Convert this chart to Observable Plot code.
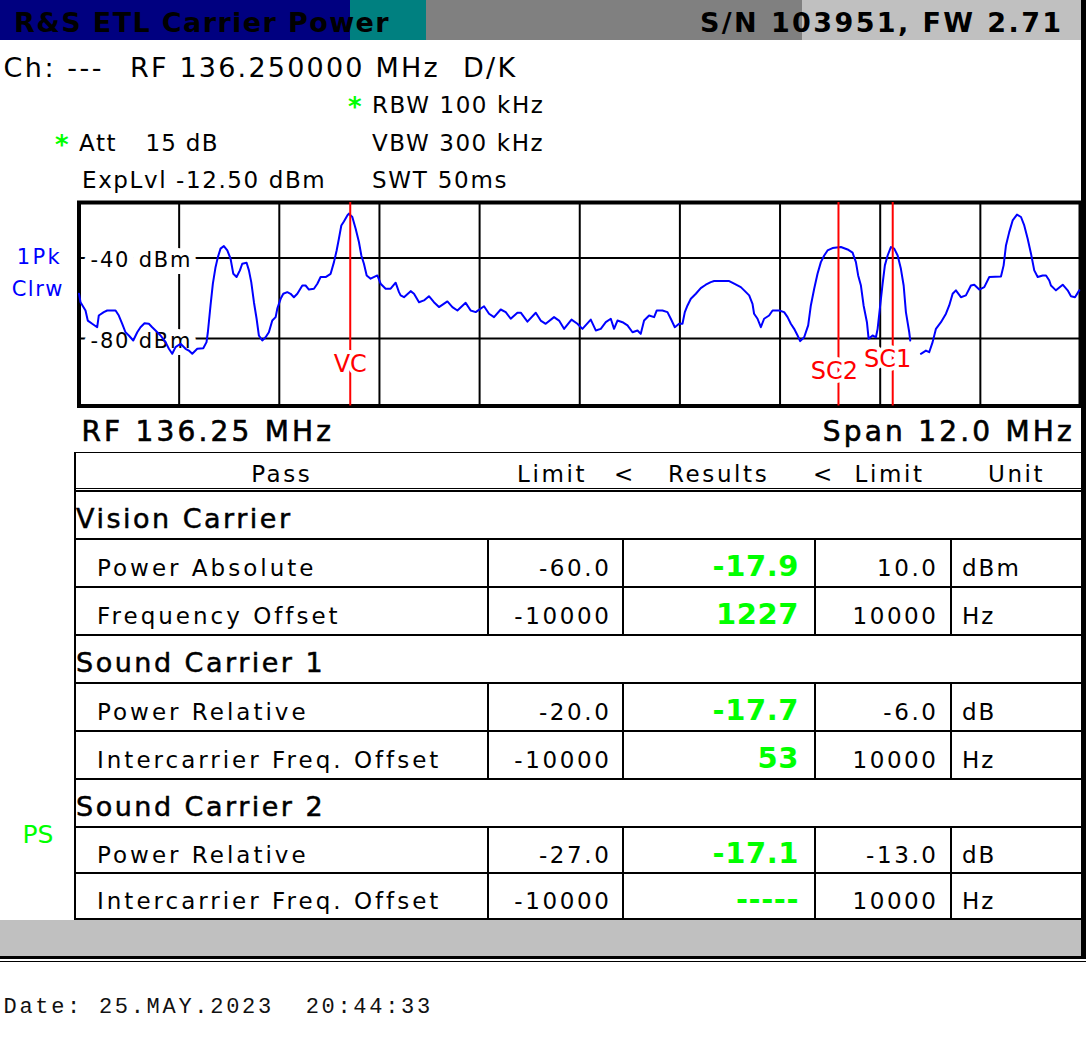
<!DOCTYPE html>
<html><head><meta charset="utf-8">
<script src="https://cdn.jsdelivr.net/npm/d3@7"></script>
<script src="https://cdn.jsdelivr.net/npm/@observablehq/plot@0.6"></script>
<style>
html,body{margin:0;padding:0;background:#fff;width:1086px;height:1054px;overflow:hidden;}
#root{position:relative;width:1086px;height:1054px;background:#fff;overflow:hidden;}
#root div.t{position:absolute;white-space:pre;}
#chart{position:absolute;left:0;top:192px;}
</style></head><body><div id="root"><div id="chart"></div></div>
<script>
// ---------------- DATA ----------------
const titleText = "R&S ETL Carrier Power";
const serialText = "S/N 103951, FW 2.71";
const channelText = "Ch: ---";
const rfText = "RF 136.250000 MHz";
const standardText = "D/K";
const rbwText = "RBW 100 kHz";
const vbwText = "VBW 300 kHz";
const swtText = "SWT 50ms";
const attText = ["Att", "15 dB"];
const expLvlText = "ExpLvl -12.50 dBm";
const traceModeText = ["1Pk", "Clrw"];
const centerText = "RF 136.25 MHz";
const spanText = "Span 12.0 MHz";
const passText = "PS";
const dateText = "Date: 25.MAY.2023  20:44:33";

// spectrum x domain (MHz) and y domain (dBm)
const freqDomain = [133, 145];
const levelDomain = [-113.5, -12.5];
const gridMHz = [134.2, 135.4, 136.6, 137.8, 139.0, 140.2, 141.4, 142.6, 143.8];
const levelTicks = [-40, -80];
const levelLabels = ["-40 dBm", "-80 dBm"];

const markerNames = ["VC", "SC2", "SC1"];
const markerMHz = [136.25, 142.10, 142.75];

const traceMHz = [
133.000,133.018,133.078,133.105,133.158,133.218,133.237,133.297,133.338,133.438,133.477,133.518,133.557,133.597,133.650,133.698,133.737,133.785,133.837,133.877,
133.917,133.977,134.037,134.077,134.117,134.157,134.217,134.277,134.316,134.357,134.417,134.489,134.528,134.544,134.576,134.604,134.636,134.664,134.696,134.736,
134.777,134.816,134.849,134.888,134.928,134.956,135.008,135.036,135.064,135.096,135.128,135.155,135.196,135.236,135.275,135.316,135.356,135.376,135.416,135.448,
135.496,135.535,135.575,135.616,135.676,135.715,135.755,135.815,135.856,135.895,135.955,136.015,136.055,136.087,136.114,136.143,136.174,136.215,136.234,136.275,
136.315,136.354,136.383,136.414,136.447,136.494,136.575,136.614,136.674,136.734,136.794,136.834,136.854,136.894,136.974,137.014,137.074,137.133,137.193,137.253,
137.313,137.414,137.474,137.534,137.633,137.693,137.753,137.853,137.913,137.973,138.053,138.113,138.173,138.253,138.293,138.373,138.473,138.532,138.592,138.692,
138.752,138.812,138.901,138.972,139.032,139.132,139.192,139.252,139.312,139.372,139.411,139.452,139.512,139.572,139.632,139.692,139.731,139.771,139.831,139.891,
139.923,139.991,140.051,140.091,140.139,140.190,140.231,140.259,140.291,140.331,140.391,140.450,140.510,140.570,140.610,140.790,140.850,140.930,140.970,141.030,
141.070,141.089,141.130,141.170,141.209,141.269,141.310,141.389,141.449,141.490,141.529,141.569,141.610,141.641,141.689,141.737,141.769,141.809,141.849,141.889,
141.929,141.969,142.029,142.129,142.209,142.269,142.309,142.336,142.369,142.401,142.441,142.461,142.509,142.549,142.569,142.600,142.629,142.656,142.689,142.728,
142.768,142.809,142.848,142.881,142.908,142.948,142.960,143.020,143.088,143.148,143.187,143.228,143.268,143.328,143.388,143.427,143.468,143.507,143.567,143.627,
143.687,143.727,143.787,143.847,143.907,144.047,144.079,144.107,144.146,144.187,144.239,144.287,144.326,144.367,144.407,144.446,144.487,144.547,144.587,144.626,
144.646,144.706,144.787,144.846,144.886,144.934,144.985
];
const traceDbm = [
-57.8,-62.0,-66.1,-71.1,-72.7,-74.4,-68.6,-66.9,-66.1,-66.1,-68.6,-72.7,-76.9,-78.5,-81.0,-76.9,-74.4,-72.4,-72.7,-74.4,
-76.0,-78.5,-81.8,-85.1,-87.6,-84.3,-82.6,-85.1,-86.0,-87.6,-85.1,-84.8,-81.8,-76.9,-63.6,-52.8,-44.6,-39.6,-35.4,-34.1,
-36.3,-40.4,-47.9,-49.5,-46.2,-42.9,-42.4,-46.2,-52.0,-62.0,-70.2,-78.5,-81.0,-79.4,-76.9,-71.1,-69.4,-65.2,-60.3,-57.8,
-57.0,-57.8,-59.5,-57.8,-53.7,-53.7,-55.7,-55.3,-52.8,-49.5,-49.5,-47.9,-42.1,-36.3,-30.5,-23.9,-21.9,-18.9,-18.0,-19.7,
-25.5,-32.1,-38.8,-42.9,-48.7,-50.3,-48.7,-52.8,-55.3,-55.3,-52.3,-57.0,-58.6,-59.5,-56.5,-57.8,-62.0,-61.1,-59.0,-62.0,
-64.4,-61.6,-64.4,-66.1,-62.3,-66.1,-66.9,-64.0,-67.7,-69.4,-65.6,-66.9,-70.2,-67.2,-67.2,-71.6,-67.2,-71.1,-72.7,-69.4,
-71.1,-75.2,-70.6,-72.7,-75.2,-70.6,-76.0,-75.2,-71.9,-70.2,-75.2,-71.1,-71.9,-73.5,-76.9,-76.0,-77.7,-71.1,-68.6,-69.4,
-66.1,-66.1,-66.9,-70.2,-74.4,-72.7,-72.7,-66.9,-63.6,-60.3,-57.8,-55.0,-53.3,-52.0,-51.5,-51.5,-52.8,-54.5,-56.1,-58.6,
-62.8,-67.7,-70.2,-74.4,-70.2,-68.6,-66.1,-66.1,-66.9,-69.4,-72.7,-75.2,-78.5,-81.3,-79.4,-73.5,-63.6,-55.3,-47.9,-42.1,
-38.8,-36.3,-35.1,-34.6,-35.8,-37.4,-42.1,-48.7,-53.7,-63.6,-71.9,-80.1,-78.5,-79.4,-75.2,-63.6,-52.8,-43.7,-38.8,-34.6,
-35.4,-38.8,-45.4,-53.7,-66.9,-76.9,-81.0,null,-87.6,-86.0,-86.8,-81.8,-75.2,-71.9,-67.7,-63.6,-57.8,-56.1,-59.5,-58.6,
-53.7,-53.3,-55.7,-54.5,-49.5,-49.2,-43.7,-33.8,-27.2,-21.4,-18.5,-19.7,-23.9,-30.5,-37.9,-46.2,-49.5,-48.7,-48.7,-51.2,
-53.7,-56.1,-53.3,-56.1,-59.0,-59.5,-56.1
];

// results table
const headerCols = ["Pass", "Limit", "<", "Results", "<", "Limit", "Unit"];
const groupNames = ["Vision Carrier", "Sound Carrier 1", "Sound Carrier 2"];
const rowNames = ["Power Absolute", "Frequency Offset", "Power Relative", "Intercarrier Freq. Offset", "Power Relative", "Intercarrier Freq. Offset"];
const lowerLimits = ["-60.0", "-10000", "-20.0", "-10000", "-27.0", "-10000"];
const resultValues = ["-17.9", "1227", "-17.7", "53", "-17.1", "-----"];
const upperLimits = ["10.0", "10000", "-6.0", "10000", "-13.0", "10000"];
const units = ["dBm", "Hz", "dB", "Hz", "dB", "Hz"];

// ---------------- LAYOUT HELPERS ----------------
const root = document.getElementById("root");
function rect(x, y, w, h, color) {
  const d = document.createElement("div");
  d.style.cssText = `position:absolute;left:${x}px;top:${y}px;width:${w}px;height:${h}px;background:${color};`;
  root.appendChild(d);
}
const ASC = {"DejaVu Sans": 0.846, "Liberation Mono": 0.767};
function text(str, o) {
  const size = o.size, fam = o.family || "DejaVu Sans", ls = o.ls || 0, color = o.color || "#000";
  const base = o.base != null ? o.base : o.cy + 0.3645 * size;
  const d = document.createElement("div");
  d.className = "t";
  d.textContent = str;
  let css = `font-family:'${fam}';font-size:${size}px;line-height:${size}px;letter-spacing:${ls}px;color:${color};font-weight:${o.weight || "normal"};top:${base - ASC[fam] * size}px;`;
  if (o.align === "right") css += `left:${o.x + ls}px;transform:translateX(-100%);`;
  else if (o.align === "center") css += `left:${o.x + ls / 2}px;transform:translateX(-50%);`;
  else css += `left:${o.x}px;`;
  if (o.stroke) css += `-webkit-text-stroke:${o.stroke}px ${color};`;
  d.style.cssText = css;
  root.appendChild(d);
}

// ---------------- TITLE BAR ----------------
rect(0, 0, 350, 40, "#000080");
rect(350, 0, 76, 40, "#008080");
rect(426, 0, 376, 40, "#808080");
rect(802, 0, 279, 40, "#c0c0c0");
text(titleText, {x: 14, cy: 22, size: 27, weight: "bold", ls: 1.4});
text(serialText, {x: 700, cy: 22, size: 27, weight: "bold", ls: 2.4});
rect(1081, 0, 5, 959, "#000");

// ---------------- SETTINGS ----------------
text(channelText, {x: 3.5, cy: 67, size: 27, ls: 2.5});
text(rfText, {x: 130, cy: 67, size: 27, ls: 2.2});
text(standardText, {x: 463, cy: 67, size: 27, ls: 2.3});
text("*", {x: 348, base: 100 + 0.6 * 26, size: 26, weight: "bold", color: "#00ff00"});
text(rbwText, {x: 372, cy: 105, size: 23, ls: 1.6});
text("*", {x: 55, base: 138 + 0.6 * 26, size: 26, weight: "bold", color: "#00ff00"});
text(attText[0], {x: 79, cy: 143.5, size: 23, ls: 1.6});
text(attText[1], {x: 145.4, cy: 143.5, size: 23, ls: 1.3});
text(vbwText, {x: 372, cy: 143, size: 23, ls: 1.6});
text(expLvlText, {x: 82, cy: 180, size: 23, ls: 1.6});
text(swtText, {x: 372, cy: 180, size: 23, ls: 1.75});
text(traceModeText[0], {x: 16.7, cy: 257.5, size: 21, ls: 2.4, color: "#0000ff"});
text(traceModeText[1], {x: 11.7, cy: 289.5, size: 21, ls: 1.5, color: "#0000ff"});
text(centerText, {x: 81.4, cy: 431, size: 28, ls: 3.2, stroke: 0.6});
text(spanText, {x: 822.8, cy: 431, size: 28, ls: 3.2, stroke: 0.6});
text(passText, {x: 22.5, cy: 834.5, size: 25, color: "#00ff00"});

// ---------------- SPECTRUM (Observable Plot) ----------------
const trace = traceMHz.map((f, i) => ({f, p: traceDbm[i]}));
const markers = markerNames.map((name, i) => ({name, f: markerMHz[i]}));
const markerLabelDy = [-41.4, -34.4, -46.4];
const markerLabelDx = [0, -4, -5];

const chart = Plot.plot({
  width: 1086,
  height: 224,
  marginLeft: 78.5,
  marginRight: 6,
  marginTop: 10,
  marginBottom: 10.5,
  x: {domain: freqDomain, axis: null},
  y: {domain: levelDomain, axis: null},
  style: {fontFamily: "DejaVu Sans", background: "transparent", overflow: "visible"},
  marks: [
    Plot.ruleX(gridMHz, {stroke: "#000", strokeWidth: 2}),
    Plot.ruleY(levelTicks, {stroke: "#000", strokeWidth: 2}),
    Plot.text(levelTicks, {
      y: d => d, frameAnchor: "left", dx: 11.5, dy: 2.5, textAnchor: "start", lineAnchor: "middle",
      text: (d, i) => levelLabels[i], fill: "#000", stroke: "#fff", strokeWidth: 14,
      fontSize: 21
    }),
    Plot.frame({stroke: "#000", strokeWidth: 4}),
    Plot.line(trace, {x: "f", y: "p", stroke: "#0000ff", strokeWidth: 2}),
    Plot.ruleX(markers, {x: "f", stroke: "#ff0000", strokeWidth: 2}),
    ...markers.map((m, i) => Plot.text([m], {
      x: "f", text: "name", frameAnchor: "bottom", lineAnchor: "middle",
      dy: markerLabelDy[i], dx: markerLabelDx[i],
      fill: "#ff0000", stroke: "#fff", strokeWidth: 8, fontSize: 24
    }))
  ]
});
// widen the level labels like the instrument's screen font
chart.querySelectorAll("text").forEach(t => {
  if (levelLabels.includes(t.textContent)) t.style.letterSpacing = "1.8px";
});
document.getElementById("chart").appendChild(chart);

// ---------------- RESULTS TABLE ----------------
const tableLeft = 75, tableW = 1006;
const rowBounds = [490.7, 538.7, 586.7, 635, 682.7, 730.7, 778.7, 826.7, 872.7, 918.7];
const colLines = [487.5, 623.3, 815.2, 951];
rect(74, 451.5, tableW + 1, 1.8, "#000");
rect(74, 451.5, 2, 468, "#000");
rect(tableLeft, 487.6, tableW, 1.5, "#000");
rect(tableLeft, 490, tableW, 1.5, "#000");

const headerX = [280.5, 517, 614, 668, 813, 854.6, 988];
headerCols.forEach((h, i) => {
  if (i === 0) text(h, {x: headerX[i], cy: 474, size: 23, ls: 2.6, align: "center"});
  else text(h, {x: headerX[i], cy: 474, size: 23, ls: 2.6});
});

let dataIdx = 0;
for (let k = 0; k < 9; k++) {
  const top = rowBounds[k], bottom = rowBounds[k + 1], mid = (top + bottom) / 2;
  rect(tableLeft, bottom - 1, tableW, 2, "#000");
  if (k % 3 === 0) {
    text(groupNames[k / 3], {x: 76, cy: mid + 3.6, size: 27, ls: 2.5, stroke: 0.5});
  } else {
    colLines.forEach(cx => rect(cx - 1, top, 2, bottom - top, "#000"));
    const j = dataIdx++;
    text(rowNames[j], {x: 97, cy: mid + 5, size: 23, ls: 3});
    text(lowerLimits[j], {x: 608.8, cy: mid + 5, size: 23, ls: 2.6, align: "right"});
    text(resultValues[j], {x: 798.5, cy: mid + 3, size: 29, ls: 0.6, weight: "bold", color: "#00ff00", align: "right"});
    text(upperLimits[j], {x: 936, cy: mid + 5, size: 23, ls: 2.6, align: "right"});
    text(units[j], {x: 962, cy: mid + 5, size: 23, ls: 2});
  }
}

// ---------------- FOOTER ----------------
rect(0, 919.5, 1081, 36.5, "#c0c0c0");
rect(0, 956, 1086, 3.3, "#000");
rect(0, 961, 1086, 1.2, "#000");
text(dateText, {x: 3.5, base: 1014, size: 22, family: "Liberation Mono", ls: 2.7, color: "#111"});
</script></body></html>
